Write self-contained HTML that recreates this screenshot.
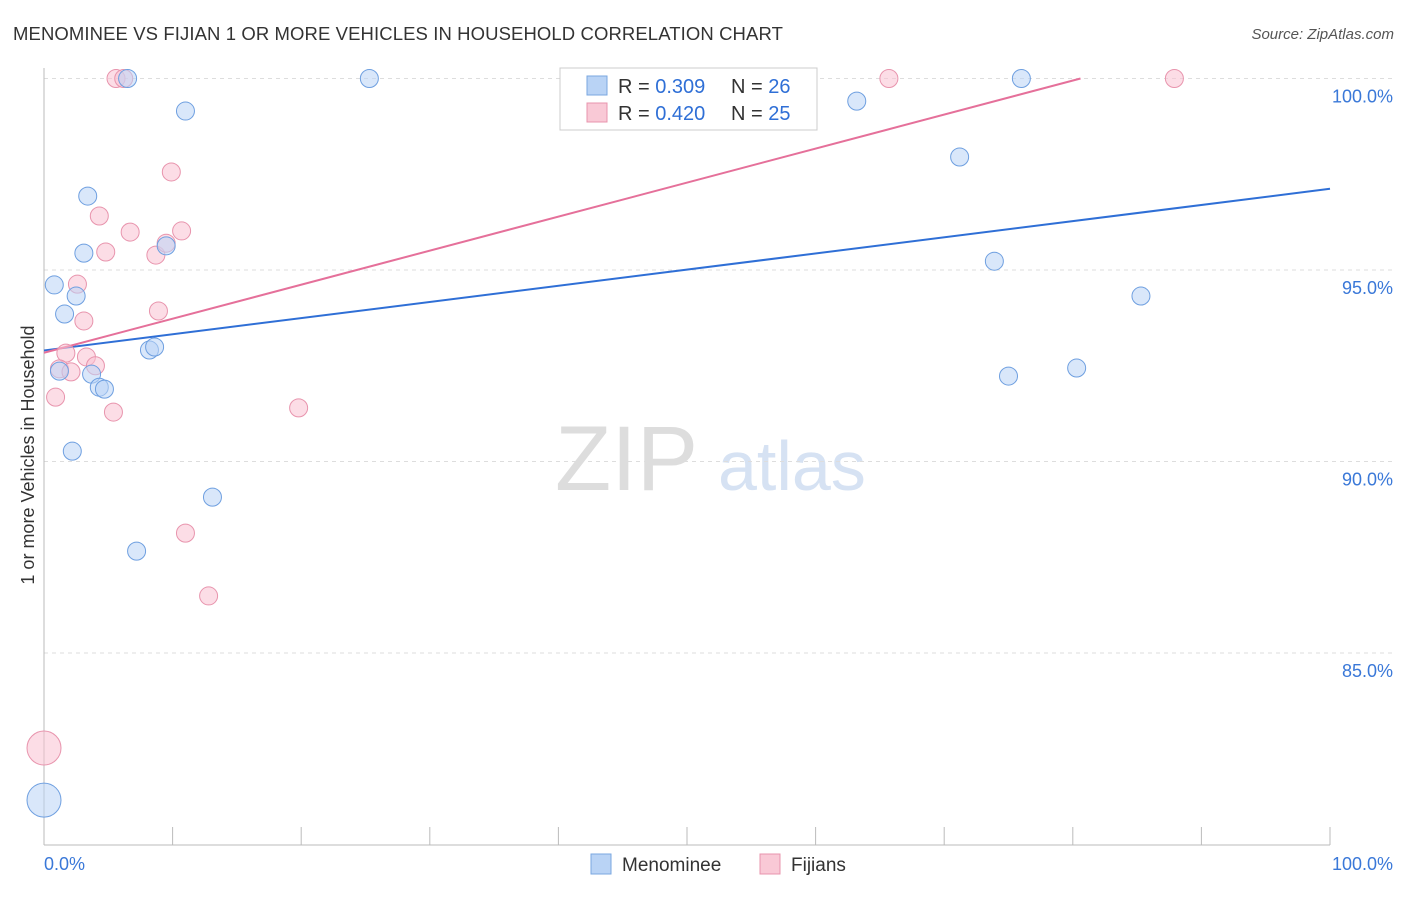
<!DOCTYPE html>
<html><head><meta charset="utf-8"><style>
body{margin:0;background:#fff;font-family:"Liberation Sans",sans-serif;}
svg text{font-family:"Liberation Sans",sans-serif;}
</style></head><body>
<svg id="chart" width="1406" height="892">
<text x="13" y="40" font-size="18.5" letter-spacing="0.1" fill="#333">MENOMINEE VS FIJIAN 1 OR MORE VEHICLES IN HOUSEHOLD CORRELATION CHART</text>
<text x="1394" y="39" font-size="15" fill="#555" text-anchor="end" font-style="italic">Source: ZipAtlas.com</text>
<text x="34" y="455" font-size="18" fill="#333" text-anchor="middle" transform="rotate(-90 34 455)">1 or more Vehicles in Household</text>
<text x="555" y="490" font-size="92" fill="#ddd" font-family="Liberation Serif">ZIP</text>
<text x="718" y="490" font-size="70" fill="#d6e2f3">atlas</text>
<g id="grid"></g><g id="lines"></g><g id="pts"></g>
<g>
<rect x="560" y="68" width="257" height="62" fill="#fff" stroke="#ccc"/>
<rect x="587" y="76" width="20" height="19" fill="#b9d3f5" stroke="#7aa7e0"/>
<text x="618" y="93" font-size="20" fill="#333">R = <tspan fill="#2f6fd6">0.309</tspan></text>
<text x="731" y="93" font-size="20" fill="#333">N = <tspan fill="#2f6fd6">26</tspan></text>
<rect x="587" y="103" width="20" height="19" fill="#f9c9d6" stroke="#e894ad"/>
<text x="618" y="120" font-size="20" fill="#333">R = <tspan fill="#2f6fd6">0.420</tspan></text>
<text x="731" y="120" font-size="20" fill="#333">N = <tspan fill="#2f6fd6">25</tspan></text>
</g>
<g>
<rect x="591" y="854" width="20" height="20" fill="#b9d3f5" stroke="#7aa7e0"/>
<text x="622" y="871" font-size="19" fill="#333">Menominee</text>
<rect x="760" y="854" width="20" height="20" fill="#f9c9d6" stroke="#e894ad"/>
<text x="791" y="871" font-size="19" fill="#333">Fijians</text>
</g>
<text x="44" y="870" font-size="18" fill="#3a78d8">0.0%</text>
<text x="1393" y="870" font-size="18" fill="#3a78d8" text-anchor="end">100.0%</text>
</svg>
<script>
const yTicks=[100,95,90,85];
const yTickLabels=["100.0%","95.0%","90.0%","85.0%"];
const menX=[6.5,11.0,25.3,63.2,76.0,71.2,3.4,3.1,9.5,0.8,2.5,73.9,85.3,1.6,8.2,8.6,1.2,3.7,4.3,4.7,75.0,80.3,2.2,13.1,7.2,0];
const menY=[100,99.15,100,99.41,100,97.95,96.93,95.44,95.63,94.61,94.32,95.23,94.32,93.85,92.91,92.99,92.36,92.28,91.94,91.89,92.23,92.44,90.27,89.07,87.66,81.16];
const fijX=[5.6,6.2,65.7,87.9,9.9,4.3,6.7,10.7,4.8,8.7,9.5,2.6,8.9,3.1,1.7,3.3,4.0,1.2,2.1,0.9,5.4,19.8,11.0,12.8,0];
const fijY=[100,100,100,100,97.56,96.41,95.99,96.02,95.47,95.39,95.70,94.63,93.93,93.67,92.83,92.73,92.50,92.42,92.34,91.68,91.29,91.40,88.13,86.49,82.52];
const menLine=[[0,92.90],[100,97.12]];
const fijLine=[[0,92.84],[80.6,100]];
const NS="http://www.w3.org/2000/svg";
const X=v=>44+v*12.86, Y=v=>78.5+(100-v)*38.3;
function mk(t,a,p){const e=document.createElementNS(NS,t);for(const k in a)e.setAttribute(k,a[k]);p.appendChild(e);return e;}
const g=document.getElementById('grid');
yTicks.forEach((t,i)=>{
 const l=mk('line',{x1:44,x2:1393,y1:Y(t),y2:Y(t),stroke:'#ddd','stroke-dasharray':'4,4'},g);
 
 
 const tx=mk('text',{x:1393,y:Y(t)+24,'font-size':18,fill:'#3a78d8','text-anchor':'end'},g);
 tx.textContent=yTickLabels[i];
 
 
});
mk('line',{x1:44,x2:44,y1:68,y2:845,stroke:'#bbb'},g);
mk('line',{x1:44,x2:1330,y1:845,y2:845,stroke:'#bbb'},g);
for(let i=0;i<=10;i++){const t=mk('line',{x1:X(i*10),x2:X(i*10),y1:827,y2:845,stroke:'#bbb'},g);
 
 }
const lg=document.getElementById('lines');
const bl=mk('line',{x1:X(menLine[0][0]),y1:Y(menLine[0][1]),x2:X(menLine[1][0]),y2:Y(menLine[1][1]),stroke:'#2f6fd6','stroke-width':2},lg);


const pl=mk('line',{x1:X(fijLine[0][0]),y1:Y(fijLine[0][1]),x2:X(fijLine[1][0]),y2:Y(fijLine[1][1]),stroke:'#e5709a','stroke-width':2},lg);


const pg=document.getElementById('pts');
function pts(xs,ys,fill,stroke,name,bigIdx){xs.forEach((x,i)=>{
 const r=(x===0&&i===bigIdx)?17:9;
 const c=mk('circle',{cx:X(x),cy:Y(ys[i]),r:r,fill:fill,'fill-opacity':0.55,stroke:stroke,'stroke-width':1},pg);
 
 
});}
pts(fijX,fijY,'#f9c1d1','#e894ad','fijians-point',24);
pts(menX,menY,'#b9d3f5','#6e9fe0','menominee-point',25);
</script>
</body></html>
